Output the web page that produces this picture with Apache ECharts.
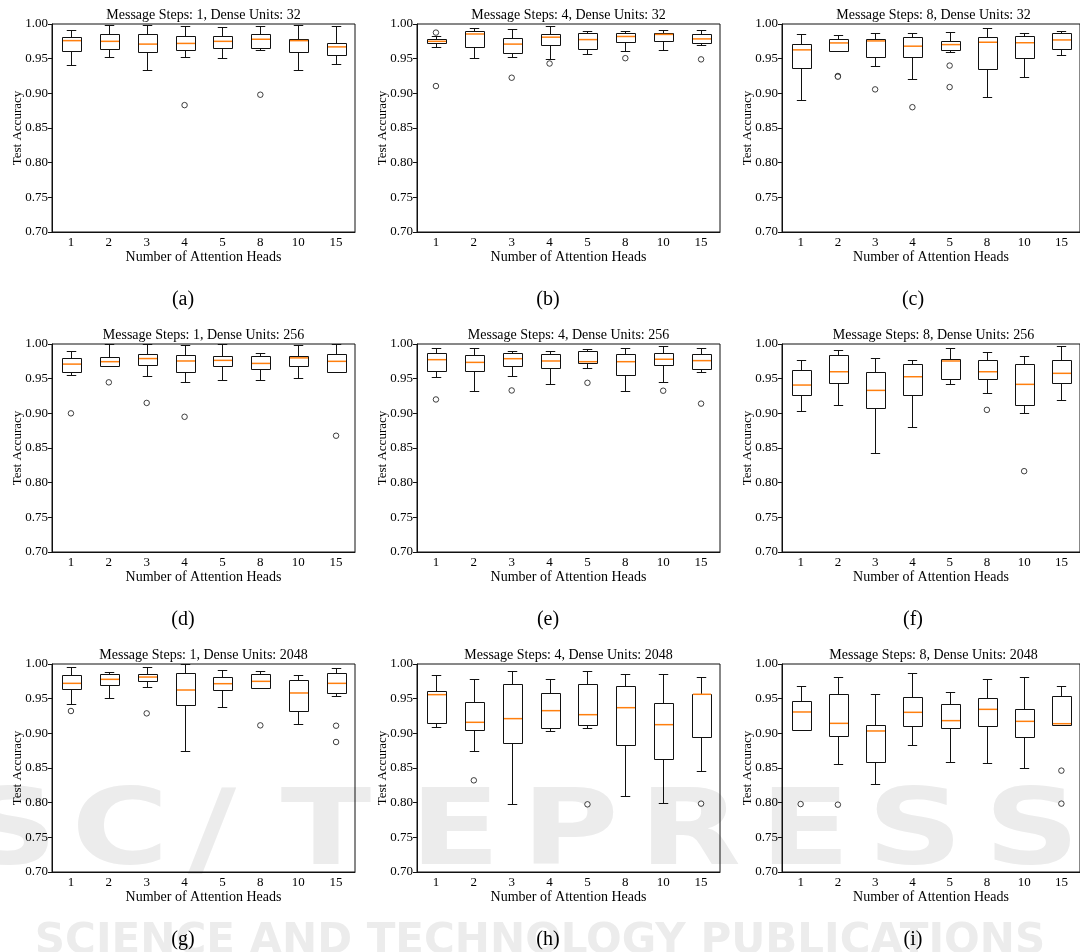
<!DOCTYPE html>
<html>
<head>
<meta charset="utf-8">
<script src="https://cdn.jsdelivr.net/npm/echarts@6/dist/echarts.min.js"></script>
<style>
  html, body { margin: 0; padding: 0; background: #fff; }
  #chart { width: 1080px; height: 952px; }
</style>
</head>
<body>
<div id="chart"></div>
<script>
// x categories (number of attention heads)
const heads = ['1', '2', '3', '4', '5', '8', '10', '15']

const titles = [
  'Message Steps: 1, Dense Units: 32', 'Message Steps: 4, Dense Units: 32', 'Message Steps: 8, Dense Units: 32',
  'Message Steps: 1, Dense Units: 256', 'Message Steps: 4, Dense Units: 256', 'Message Steps: 8, Dense Units: 256',
  'Message Steps: 1, Dense Units: 2048', 'Message Steps: 4, Dense Units: 2048', 'Message Steps: 8, Dense Units: 2048'
]
const captions = ['(a)', '(b)', '(c)', '(d)', '(e)', '(f)', '(g)', '(h)', '(i)']

// box stats per head: [lower whisker, Q1, median, Q3, upper whisker]
const boxA = [
  [0.941, 0.961, 0.976, 0.981, 0.991],
  [0.952, 0.964, 0.975, 0.985, 0.999],
  [0.934, 0.960, 0.971, 0.986, 0.999],
  [0.953, 0.963, 0.972, 0.983, 0.997],
  [0.951, 0.965, 0.975, 0.982, 0.996],
  [0.963, 0.966, 0.978, 0.985, 0.997],
  [0.934, 0.959, 0.976, 0.979, 0.999],
  [0.942, 0.956, 0.967, 0.973, 0.997]
]
const outA = [[3, 0.883], [5, 0.898]]

const boxB = [
  [0.9665, 0.972, 0.975, 0.978, 0.982],
  [0.951, 0.9665, 0.9856, 0.9895, 0.994],
  [0.953, 0.958, 0.971, 0.980, 0.993],
  [0.949, 0.969, 0.981, 0.9856, 0.997],
  [0.9565, 0.9646, 0.9775, 0.9866, 0.990],
  [0.961, 0.974, 0.982, 0.9866, 0.9895],
  [0.962, 0.976, 0.985, 0.987, 0.992],
  [0.969, 0.972, 0.9785, 0.9856, 0.991]
]
const outB = [[0, 0.9876], [0, 0.9105], [2, 0.9225], [3, 0.943], [5, 0.9507], [7, 0.949]]

const boxC = [
  [0.891, 0.937, 0.9627, 0.971, 0.9856],
  [0.961, 0.9617, 0.9727, 0.978, 0.984],
  [0.939, 0.9526, 0.9756, 0.979, 0.9876],
  [0.921, 0.9517, 0.968, 0.981, 0.9866],
  [0.960, 0.962, 0.9703, 0.9756, 0.9885],
  [0.894, 0.9354, 0.9737, 0.981, 0.9943],
  [0.924, 0.951, 0.973, 0.983, 0.9866],
  [0.9555, 0.964, 0.977, 0.987, 0.9904]
]
const outC = [[1, 0.925], [1, 0.924], [2, 0.9057], [3, 0.880], [4, 0.940], [4, 0.909]]

const boxD = [
  [0.955, 0.959, 0.971, 0.980, 0.990],
  [0.9687, 0.9687, 0.9745, 0.9817, 0.9995],
  [0.954, 0.969, 0.979, 0.985, 0.9995],
  [0.945, 0.9596, 0.9755, 0.9836, 0.9985],
  [0.9485, 0.9687, 0.9764, 0.982, 0.9995],
  [0.9485, 0.9634, 0.972, 0.9827, 0.9875],
  [0.9514, 0.9678, 0.980, 0.983, 0.999],
  [0.9596, 0.9596, 0.975, 0.985, 0.9995]
]
const outD = [[0, 0.900], [1, 0.9447], [2, 0.915], [3, 0.895], [7, 0.8677]]

const boxE = [
  [0.953, 0.9605, 0.9774, 0.9865, 0.9947],
  [0.9326, 0.9615, 0.9735, 0.9846, 0.9947],
  [0.9543, 0.9678, 0.9788, 0.9865, 0.990],
  [0.9423, 0.9658, 0.9755, 0.9856, 0.990],
  [0.9658, 0.972, 0.9745, 0.9894, 0.9925],
  [0.9326, 0.9548, 0.9745, 0.985, 0.9942],
  [0.945, 0.969, 0.978, 0.9875, 0.9976],
  [0.9596, 0.9634, 0.976, 0.985, 0.9947]
]
const outE = [[0, 0.920], [2, 0.933], [4, 0.944], [6, 0.9326], [7, 0.914]]

const boxF = [
  [0.9028, 0.9269, 0.9408, 0.9625, 0.9764],
  [0.9124, 0.9442, 0.960, 0.9836, 0.9918],
  [0.8431, 0.9076, 0.9331, 0.959, 0.9793],
  [0.8807, 0.9264, 0.9528, 0.9716, 0.9764],
  [0.9418, 0.949, 0.9755, 0.9788, 0.9937],
  [0.9293, 0.949, 0.960, 0.9764, 0.989],
  [0.900, 0.912, 0.9418, 0.971, 0.982],
  [0.9196, 0.9437, 0.9577, 0.9764, 0.9971]
]
const outF = [[5, 0.905], [6, 0.8166]]

const boxG = [
  [0.9418, 0.9635, 0.9721, 0.9837, 0.9952],
  [0.9514, 0.9697, 0.9779, 0.986, 0.989],
  [0.9668, 0.9755, 0.9812, 0.986, 0.9962],
  [0.8745, 0.9409, 0.9625, 0.987, 0.9995],
  [0.9385, 0.962, 0.9716, 0.9808, 0.9918],
  [0.9659, 0.9659, 0.975, 0.985, 0.9899],
  [0.9139, 0.9327, 0.9582, 0.9764, 0.9841],
  [0.9538, 0.9577, 0.9721, 0.987, 0.9947]
]
const outG = [[0, 0.9322], [2, 0.9288], [5, 0.9115], [7, 0.911], [7, 0.8875]]

const boxH = [
  [0.9087, 0.9149, 0.9558, 0.9615, 0.9841],
  [0.8745, 0.9043, 0.9159, 0.9452, 0.9788],
  [0.7976, 0.8865, 0.9212, 0.9716, 0.9899],
  [0.9034, 0.9082, 0.9327, 0.9587, 0.9788],
  [0.9072, 0.9125, 0.9269, 0.9716, 0.9894],
  [0.8091, 0.8837, 0.937, 0.9688, 0.986],
  [0.799, 0.8625, 0.9125, 0.9433, 0.986],
  [0.8462, 0.8942, 0.9563, 0.9572, 0.9808]
]
const outH = [[1, 0.8322], [4, 0.7976], [7, 0.7986]]

const boxI = [
  [0.9043, 0.9053, 0.9308, 0.9466, 0.9683],
  [0.8558, 0.8966, 0.9144, 0.9567, 0.9808],
  [0.8274, 0.8591, 0.9034, 0.9125, 0.9572],
  [0.8837, 0.911, 0.9303, 0.9524, 0.9875],
  [0.8582, 0.9072, 0.9183, 0.9428, 0.9596],
  [0.8572, 0.9101, 0.9346, 0.9514, 0.9779],
  [0.8495, 0.8942, 0.9173, 0.9346, 0.9812],
  [0.9115, 0.9115, 0.9139, 0.9538, 0.9688]
]
const outI = [[0, 0.798], [1, 0.7971], [7, 0.8462], [7, 0.7986]]

const boxes = [boxA, boxB, boxC, boxD, boxE, boxF, boxG, boxH, boxI]
const outliers = [outA, outB, outC, outD, outE, outF, outG, outH, outI]

// layout
const colLeft = [52, 417, 782]
const rowTop = [24, 344, 664]
const plotW = 303
const plotH = 208
const serif = '"Liberation Serif", "DejaVu Serif", serif'

const crisp = v => Math.round(v) + 0.5

function renderBox(params, api) {
  const i = api.value(0)
  const low = api.coord([i, api.value(1)])
  const q1 = api.coord([i, api.value(2)])
  const med = api.coord([i, api.value(3)])
  const q3 = api.coord([i, api.value(4)])
  const high = api.coord([i, api.value(5)])
  const band = api.size([1, 0])[0]
  const w = band * 0.5
  const cw = band * 0.25
  const x = crisp(low[0])
  const ln = { stroke: '#111', lineWidth: 1, fill: null }
  const yl = crisp(low[1]), y1 = crisp(q1[1]), y3 = crisp(q3[1]), yh = crisp(high[1])
  return {
    type: 'group',
    children: [
      { type: 'line', shape: { x1: x, y1: y3, x2: x, y2: yh }, style: ln },
      { type: 'line', shape: { x1: x, y1: y1, x2: x, y2: yl }, style: ln },
      { type: 'line', shape: { x1: x - cw / 2, y1: yh, x2: x + cw / 2, y2: yh }, style: ln },
      { type: 'line', shape: { x1: x - cw / 2, y1: yl, x2: x + cw / 2, y2: yl }, style: ln },
      { type: 'rect', shape: { x: Math.round(x - w / 2) + 0.5, y: y3, width: Math.round(w), height: y1 - y3 },
        style: { fill: 'rgba(0,0,0,0)', stroke: '#111', lineWidth: 1 } },
      { type: 'line', shape: { x1: Math.round(x - w / 2) + 1, y1: med[1], x2: Math.round(x - w / 2) + Math.round(w), y2: med[1] },
        style: { stroke: '#ff7f0e', lineWidth: 1.5 } }
    ]
  }
}

const grid = [], xAxis = [], yAxis = [], series = [], graphic = []

// faint publisher watermark behind the panels
const wmLetters = ['S', 'C', '/', 'T', 'E', 'P', 'R', 'E', 'S', 'S']
const wmX = [10, 120, 212, 326, 455, 570, 690, 805, 915, 1032]
wmLetters.forEach((ch, k) => {
  graphic.push({
    type: 'text', x: wmX[k], y: 836, z: -10, silent: true, scaleX: 1.25,
    style: { text: ch, font: 'bold 106px "DejaVu Sans"', fill: '#ececec', align: 'center', verticalAlign: 'middle' }
  })
})
graphic.push({
  type: 'text', x: 540, y: 942, z: -10, silent: true,
  style: { text: 'SCIENCE AND TECHNOLOGY PUBLICATIONS', font: 'bold 42px "DejaVu Sans"', fill: '#ececec', align: 'center', verticalAlign: 'middle' }
})

for (let k = 0; k < 9; k++) {
  const left = colLeft[k % 3]
  const top = rowTop[Math.floor(k / 3)]
  grid.push({ left: left, top: top, width: plotW, height: plotH, show: true, borderColor: '#111', borderWidth: 1, backgroundColor: 'transparent' })
  xAxis.push({
    gridIndex: k, type: 'category', data: heads,
    axisLine: { lineStyle: { color: '#111', width: 1 } },
    axisTick: { alignWithLabel: true, length: 4, lineStyle: { color: '#111' } },
    axisLabel: { color: '#000', fontFamily: serif, fontSize: 13, margin: 4 },
    splitLine: { show: false },
    name: 'Number of Attention Heads', nameLocation: 'middle', nameGap: 18, nameMoveOverlap: false,
    nameTextStyle: { color: '#000', fontFamily: serif, fontSize: 14 }
  })
  yAxis.push({
    gridIndex: k, type: 'value', min: 0.7, max: 1.0, interval: 0.05,
    axisLine: { show: true, lineStyle: { color: '#111', width: 1 } },
    axisTick: { show: true, length: 4, lineStyle: { color: '#111' } },
    axisLabel: { color: '#000', fontFamily: serif, fontSize: 13, margin: 4, formatter: v => v.toFixed(2) },
    splitLine: { show: false },
    name: 'Test Accuracy', nameLocation: 'middle', nameGap: 28, nameMoveOverlap: false,
    nameTextStyle: { color: '#000', fontFamily: serif, fontSize: 13 }
  })
  series.push({
    type: 'custom', xAxisIndex: k, yAxisIndex: k,
    renderItem: renderBox,
    encode: { x: 0, y: [1, 2, 3, 4, 5] },
    data: boxes[k].map((b, i) => [i].concat(b)),
    z: 3
  })
  series.push({
    type: 'scatter', xAxisIndex: k, yAxisIndex: k,
    symbol: 'circle', symbolSize: 5.5,
    itemStyle: { color: '#fff', borderColor: '#111', borderWidth: 1 },
    data: outliers[k],
    z: 4
  })
  graphic.push({
    type: 'text', x: left + plotW / 2, y: top - 9,
    style: { text: titles[k], font: '14px ' + serif, fill: '#000', align: 'center', verticalAlign: 'middle' }
  })
  graphic.push({
    type: 'text', x: left + 131, y: top + plotH + 68,
    style: { text: captions[k], font: '20px ' + serif, fill: '#000', align: 'center', verticalAlign: 'middle' }
  })
}

const chart = echarts.init(document.getElementById('chart'))
chart.setOption({
  backgroundColor: '#fff',
  animation: false,
  tooltip: { show: false },
  grid: grid,
  xAxis: xAxis,
  yAxis: yAxis,
  series: series,
  graphic: graphic
})
</script>
</body>
</html>
